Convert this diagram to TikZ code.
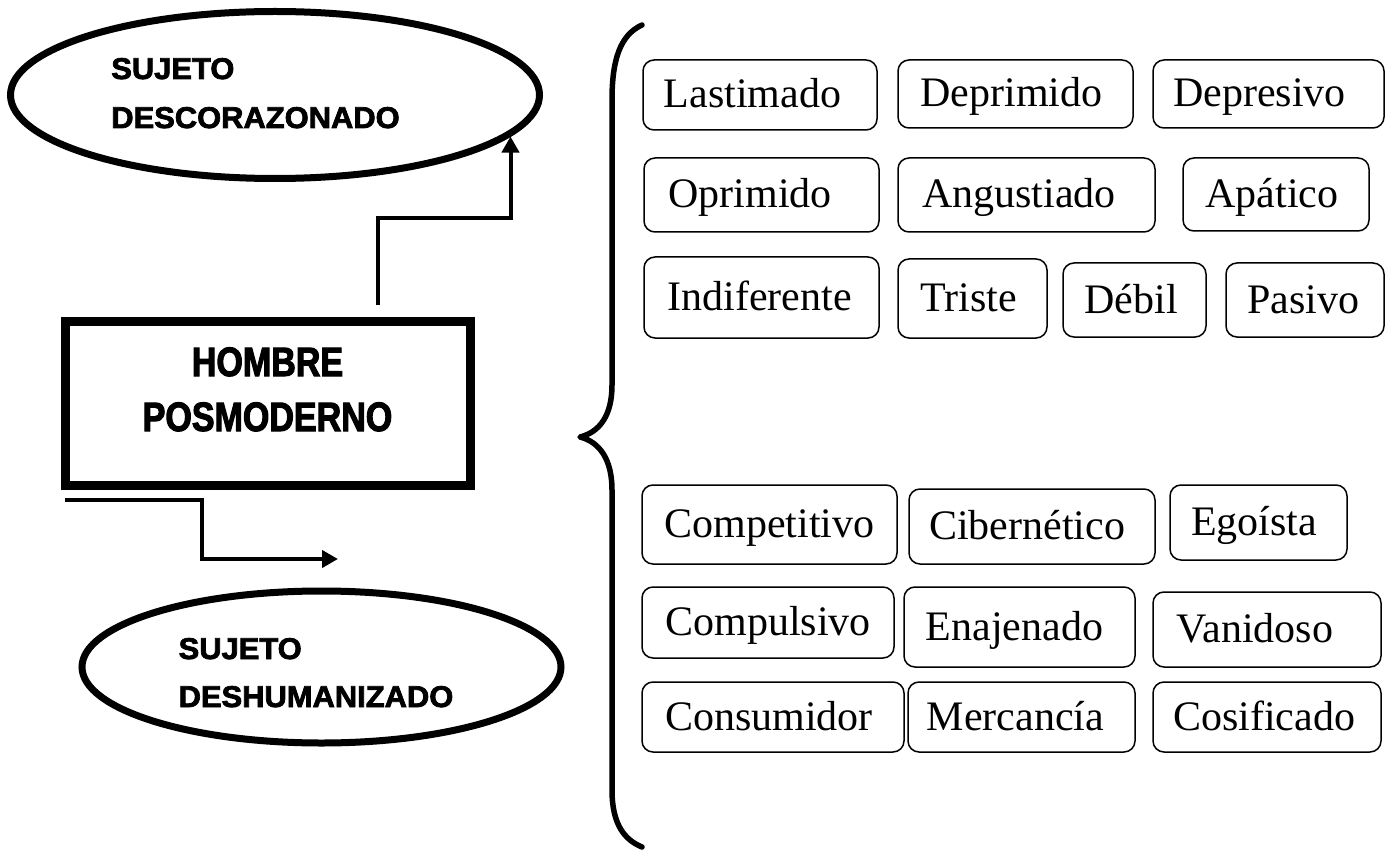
\documentclass[tikz,border=0pt]{standalone}
\usepackage{fontspec}
\setmainfont{Liberation Serif}
\newfontfamily\ellfont[FakeStretch=1.03,BoldFeatures={FakeBold=2.5}]{Liberation Sans}
\newfontfamily\hmfont[FakeStretch=0.83,BoldFeatures={FakeBold=2.5}]{Liberation Sans}
\newfontfamily\wordfont{Liberation Serif}
\usetikzlibrary{arrows.meta,shapes.geometric}
\tikzset{
  wbox/.style={draw, line width=1.5pt, rounded corners=11pt, inner sep=0pt,
    font=\wordfont\fontsize{42pt}{42pt}\selectfont, text height=28pt, text depth=2pt},
  ell/.style={ellipse, draw, line width=7pt, inner sep=0pt, text height=21pt},
  mainbox/.style={rectangle, draw, line width=9pt, inner sep=0pt,
    font=\hmfont\bfseries\fontsize{41pt}{55pt}\selectfont, text height=29pt, text depth=84pt},
  conn/.style={line width=4pt, -{Triangle[length=16pt,width=17pt]}},
  bracestyle/.style={line width=5.5pt, line cap=round, line join=round}
}
\newcommand\wbx[7]{\node[wbox, minimum width={(#4)-(#2)}, minimum height={(#5)-(#3)}] (#1) at ({((#2)+(#4))/2},{((#3)+(#5))/2}) {\hspace*{#6pt}#7};}
\begin{document}
\begin{tikzpicture}[x=1pt,y=-1pt]
\useasboundingbox (0,0) rectangle (1386,850);
% ellipses
\node[ell, minimum width=529pt, minimum height=167pt, text depth=53pt,
  font=\ellfont\bfseries\fontsize{30pt}{49pt}\selectfont] (e1) at (275,95)
  {\hspace*{-39pt}\begin{tabular}[t]{@{}l@{}}SUJETO\\DESCORAZONADO\end{tabular}};
\node[ell, minimum width=479pt, minimum height=152pt, text depth=37pt,
  font=\ellfont\bfseries\fontsize{30pt}{48pt}\selectfont] (e2) at (321.5,667)
  {\hspace*{-11pt}\begin{tabular}[t]{@{}l@{}}SUJETO\\DESHUMANIZADO\end{tabular}};
% main box
\node[mainbox, minimum width=405pt, minimum height=164pt] (hb) at (267.5,403.5)
  {\begin{tabular}[t]{@{}c@{}}HOMBRE\\POSMODERNO\end{tabular}};
% connectors
\coordinate (a1s) at (378,305);
\coordinate (a1k) at (450,218);
\draw[conn] (a1s) |- (a1k) -| (e1.-10.5);
\coordinate (a2s) at (65,500);
\coordinate (a2k) at (202,559);
\coordinate (a2e) at (338,559);
\draw[conn] (a2s) -| (a2k) -- (a2e);
% brace
\draw[bracestyle] (642,25) .. controls (620,35) and (612,60) .. (612,100)
  -- (612,385) .. controls (612,415) and (600,432) .. (580,437)
  .. controls (600,442) and (612,460) .. (612,490)
  -- (612,790) .. controls (612,825) and (625,840) .. (642,847);
% word boxes, upper group
\wbx{lastimado}{643}{60}{877}{130}{-15}{Lastimado}
\wbx{deprimido}{898}{60}{1133}{128}{-8}{Deprimido}
\wbx{depresivo}{1153}{60}{1384}{128}{-18}{Depresivo}
\wbx{oprimido}{644}{158}{879}{232}{-23}{Oprimido}
\wbx{angustiado}{898}{158}{1155}{232}{-15}{Angustiado}
\wbx{apatico}{1183}{158}{1369}{231}{-8}{Apático}
\wbx{indiferente}{644}{257}{879}{338}{-4}{Indiferente}
\wbx{triste}{898}{259}{1047}{338}{-7}{Triste}
\wbx{debil}{1063}{263}{1206}{337}{-7}{Débil}
\wbx{pasivo}{1226}{263}{1384}{337}{-3}{Pasivo}
% word boxes, lower group
\wbx{competitivo}{642}{485}{897}{564}{0}{Competitivo}
\wbx{cibernetico}{909}{489}{1155}{564}{-10}{Cibernético}
\wbx{egoista}{1170}{485}{1347}{560}{-9}{Egoísta}
\wbx{compulsivo}{642}{587}{894}{658}{0}{Compulsivo}
\wbx{enajenado}{904}{587}{1135}{667}{-10}{Enajenado}
\wbx{vanidoso}{1153}{592}{1381}{667}{-24}{Vanidoso}
\wbx{consumidor}{642}{682}{904}{752}{-8}{Consumidor}
\wbx{mercancia}{908}{682}{1135}{752}{-12}{Mercancía}
\wbx{cosificado}{1153}{682}{1381}{752}{-6}{Cosificado}
\end{tikzpicture}
\end{document}
